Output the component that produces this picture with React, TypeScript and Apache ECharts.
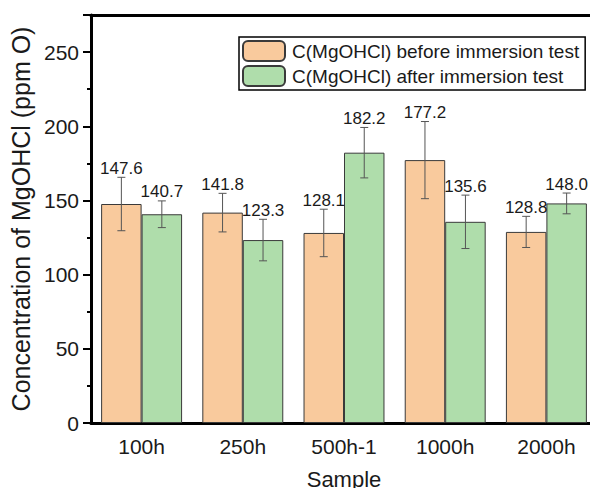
import React, { useEffect, useRef } from "react";
import * as echarts from "echarts";

const categories = ["100h", "250h", "500h-1", "1000h", "2000h"];
const beforeValues = [147.6, 141.8, 128.1, 177.2, 128.8];
const beforeErrors = [18, 13, 16, 26, 10.5];
const afterValues = [140.7, 123.3, 182.2, 135.6, 148.0];
const afterErrors = [9, 14, 17, 18, 7];
const seriesNames = [
  "C(MgOHCl) before immersion test",
  "C(MgOHCl) after immersion test",
];

const FONT = "'Liberation Sans', Arial, sans-serif";
const ORANGE = "#F9CA9D";
const GREEN = "#AFDDAB";

function errorSeries(values: number[], errors: number[], side: number) {
  return {
    type: "custom",
    silent: true,
    z: 5,
    clip: false,
    data: values.map((v, i) => [i, v - errors[i], v + errors[i], v]),
    renderItem: (params: any, api: any) => {
      const idx = api.value(0);
      const lo = api.value(1);
      const hi = api.value(2);
      const val = api.value(3);
      const band = api.size([1, 0])[0];
      const c = api.coord([idx, hi]);
      const cLo = api.coord([idx, lo]);
      const x = c[0] + side * band * 0.2;
      const yHi = c[1];
      const yLo = cLo[1];
      const cap = 4;
      const ls = { stroke: "#555", lineWidth: 1 };
      return {
        type: "group",
        children: [
          { type: "line", shape: { x1: x, y1: yHi, x2: x, y2: yLo }, style: ls },
          { type: "line", shape: { x1: x - cap, y1: yHi, x2: x + cap, y2: yHi }, style: ls },
          { type: "line", shape: { x1: x - cap, y1: yLo, x2: x + cap, y2: yLo }, style: ls },
          {
            type: "text",
            x: x,
            y: yHi - 9,
            style: {
              text: val.toFixed(1),
              fill: "#1a1a1a",
              font: `17px ${FONT}`,
              align: "center",
              verticalAlign: "middle",
            },
          },
        ],
      };
    },
  };
}

export default function App() {
  const ref = useRef<HTMLDivElement>(null);
  useEffect(() => {
    if (!ref.current) return;
    const chart = echarts.init(ref.current, undefined, { renderer: "svg" });
    chart.setOption({
      animation: false,
      textStyle: { fontFamily: FONT },
      grid: {
        left: 91,
        width: 506,
        top: 15,
        bottom: 65,
        outerBoundsMode: "none",
        containLabel: false,
        show: false,
      },
      legend: {
        orient: "vertical",
        left: 239,
        top: 37,
        padding: [3, 6, 3, 3],
        itemGap: 3,
        itemWidth: 42,
        itemHeight: 20,
        borderColor: "#000",
        borderWidth: 1.5,
        textStyle: { fontSize: 19, color: "#1a1a1a", fontFamily: FONT, padding: [0, 0, 0, 2] },
        data: seriesNames,
      },
      xAxis: [
        {
          type: "category",
          data: categories,
          name: "Sample",
          nameLocation: "middle",
          nameGap: 45,
          nameTextStyle: { fontSize: 22, color: "#1a1a1a", fontFamily: FONT },
          axisLine: { lineStyle: { color: "#000", width: 3 } },
          axisTick: { show: false },
          axisLabel: { fontSize: 21, color: "#1a1a1a", margin: 13, fontFamily: FONT },
        },
        {
          type: "category",
          data: categories,
          position: "top",
          axisLine: { show: true, lineStyle: { color: "#000", width: 3 } },
          axisTick: { show: false },
          axisLabel: { show: false },
        },
      ],
      yAxis: {
        type: "value",
        min: 0,
        max: 275,
        interval: 50,
        name: "Concentration of MgOHCl (ppm O)",
        nameLocation: "middle",
        nameGap: 52,
        nameTextStyle: { fontSize: 25, color: "#1a1a1a", fontFamily: FONT },
        axisLine: { show: true, lineStyle: { color: "#000", width: 3 } },
        axisTick: { show: true, length: 8, lineStyle: { color: "#000", width: 2 } },
        minorTick: { show: true, splitNumber: 2, length: 4, lineStyle: { color: "#000", width: 2 } },
        splitLine: { show: false },
        axisLabel: {
          fontSize: 21,
          color: "#1a1a1a",
          margin: 12,
          fontFamily: FONT,
          showMaxLabel: false,
        },
      },
      series: [
        {
          name: seriesNames[0],
          type: "bar",
          data: beforeValues,
          barWidth: "40%",
          barGap: "0%",
          itemStyle: { color: ORANGE, borderColor: "#3a3a3a", borderWidth: 1 },
        },
        {
          name: seriesNames[1],
          type: "bar",
          data: afterValues,
          barWidth: "40%",
          barGap: "0%",
          itemStyle: { color: GREEN, borderColor: "#3a3a3a", borderWidth: 1 },
        },
        errorSeries(beforeValues, beforeErrors, -1),
        errorSeries(afterValues, afterErrors, 1),
      ],
    });
    return () => chart.dispose();
  }, []);
  return (
    <div
      style={{ position: "absolute", left: 0, top: 0, width: 590, height: 488, background: "#fff", overflow: "hidden" }}
    >
      <div ref={ref} style={{ width: 600, height: 488 }} />
    </div>
  );
}
